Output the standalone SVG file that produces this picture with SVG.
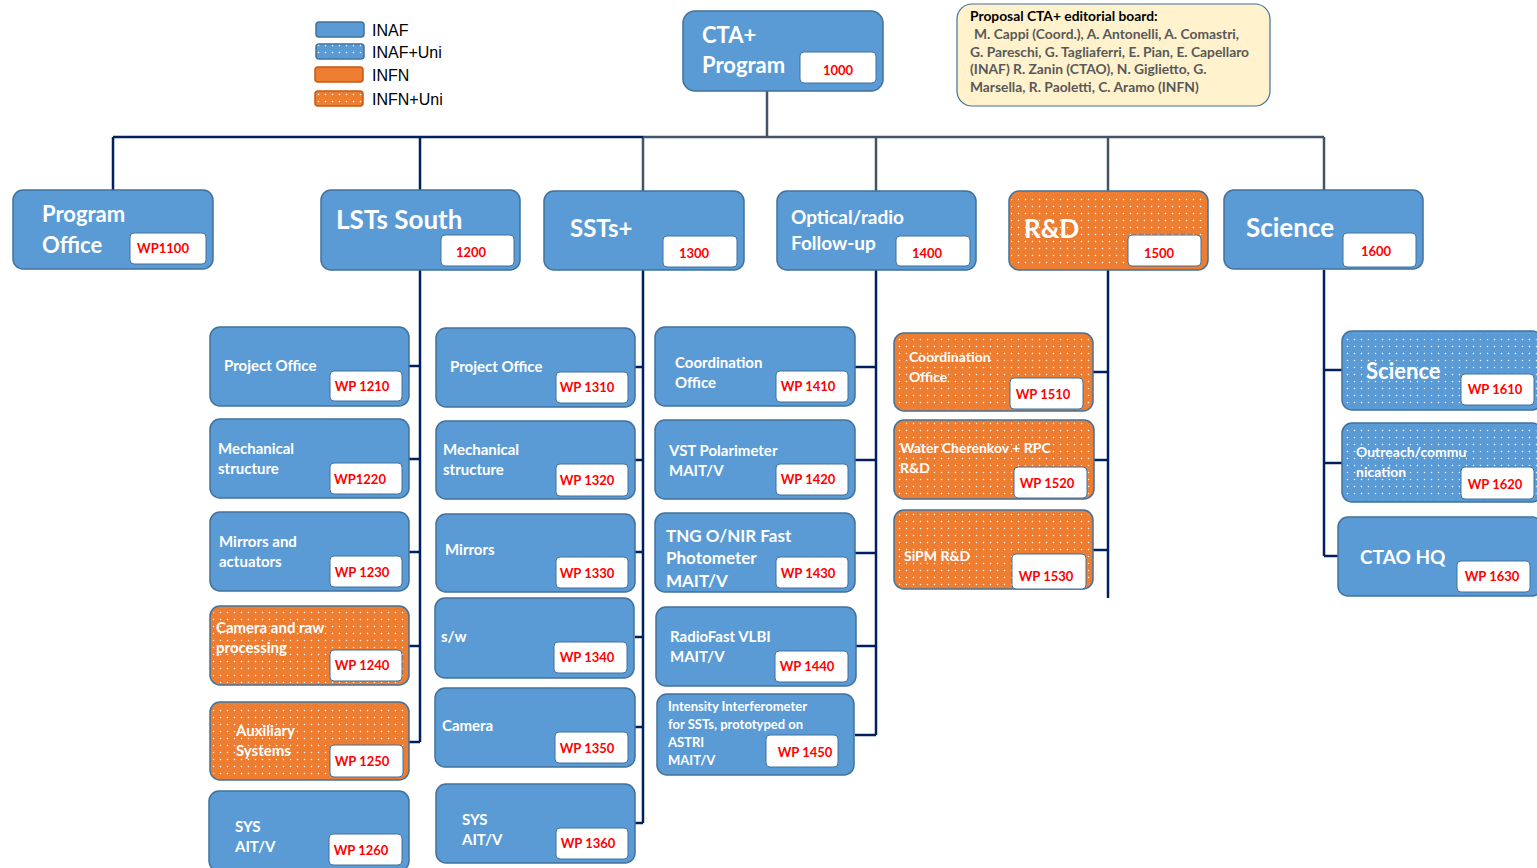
<svg xmlns="http://www.w3.org/2000/svg" width="1537" height="868" viewBox="0 0 1537 868">
<defs>
<pattern id="dots" width="7" height="7" patternUnits="userSpaceOnUse">
<circle cx="3.5" cy="3.5" r="0.75" fill="#ffffff"/>
</pattern>
<style>
.b{fill:#5B9BD5;stroke:#41719C;stroke-width:1.5}
.o{fill:#ED7D31;stroke:#41719C;stroke-width:1.5}
.d{fill:url(#dots);stroke:none}
.wp{fill:#ffffff;stroke:#41719C;stroke-width:1}
.t{font-family:Lato,"Liberation Sans",sans-serif;font-weight:bold;fill:#ffffff}
.r{font-family:Lato,"Liberation Sans",sans-serif;font-weight:bold;fill:#FF0000;font-size:13px;text-anchor:middle}
.n{fill:none;stroke:#002060;stroke-width:2.5}
.g{fill:none;stroke:#44546A;stroke-width:2.5}
.lg{font-family:"Liberation Sans",Arial,sans-serif;font-size:16px;fill:#000000}
.bd{font-family:Lato,"Liberation Sans",sans-serif;font-weight:bold;font-size:13.8px}
</style>
</defs>

<g id="connectors">
<path class="g" d="M767 84 V137 M643 137 H1324 M643 137 V191 M876 137 V191 M1108 137 V191 M1324 137 V190"/>
<path class="n" d="M113 137 H643 M113 137 V190 M420 137 V190"/>
<path class="n" d="M420 270 V742 M409 366 H420 M409 459 H420 M409 552 H420 M409 646 H420 M409 742 H420"/>
<path class="n" d="M643 270 V823 M635 367 H643 M635 460 H643 M635 552 H643 M635 637 H643 M635 727 H643 M635 823 H643"/>
<path class="n" d="M876 270 V735 M855 367 H876 M855 460 H876 M855 553 H876 M856 646 H876 M855 735 H876"/>
<path class="n" d="M1108 270 V598 M1093 372 H1108 M1093 460 H1108 M1093 550 H1108"/>
<path class="n" d="M1324 270 V556 M1324 370 H1342 M1324 463 H1342 M1324 556 H1338"/>
</g>

<g id="legend">
<rect class="b" x="316" y="22" width="48" height="15" rx="3"/>
<rect class="b" x="316" y="44" width="48" height="15" rx="3"/><rect class="d" x="316" y="44" width="48" height="15"/>
<rect class="o" x="315" y="67" width="48" height="15" rx="3" style="stroke:#C55A11"/>
<rect class="o" x="315" y="91" width="48" height="15" rx="3" style="stroke:#C55A11"/><rect class="d" x="315" y="91" width="48" height="15"/>
<text class="lg" x="372" y="36">INAF</text>
<text class="lg" x="372" y="58">INAF+Uni</text>
<text class="lg" x="372" y="81">INFN</text>
<text class="lg" x="372" y="105">INFN+Uni</text>
</g>

<g id="board">
<rect x="957" y="4" width="313" height="102" rx="15" fill="#FFF2CC" stroke="#41719C" stroke-width="1.2"/>
<text class="bd" fill="#000000" x="970" y="21">Proposal CTA+ editorial board:</text>
<g class="bd" fill="#595959">
<text x="974" y="39">M. Cappi (Coord.), A. Antonelli, A. Comastri,</text>
<text x="970" y="57">G. Pareschi, G. Tagliaferri, E. Pian, E. Capellaro</text>
<text x="970" y="74">(INAF) R. Zanin (CTAO), N. Giglietto, G.</text>
<text x="970" y="92">Marsella, R. Paoletti, C. Aramo (INFN)</text>
</g>
</g>

<g id="n1000">
<rect class="b" x="683" y="11" width="200" height="80" rx="12"/>
<text class="t" font-size="22" x="702" y="43">CTA+</text>
<text class="t" font-size="22" x="702" y="73">Program</text>
<rect class="wp" x="800" y="52" width="76" height="31" rx="4"/>
<text class="r" x="838" y="75">1000</text>
</g>

<g id="n1100">
<rect class="b" x="13" y="190" width="200" height="79" rx="10"/>
<text class="t" font-size="22" x="42" y="222">Program</text>
<text class="t" font-size="22" x="42" y="253">Office</text>
<rect class="wp" x="130" y="233" width="76" height="31" rx="4"/>
<text class="r" x="163" y="253">WP1100</text>
</g>

<g id="n1200">
<rect class="b" x="321" y="190" width="199" height="80" rx="10"/>
<text class="t" font-size="26" x="336" y="229">LSTs South</text>
<rect class="wp" x="441" y="235" width="73" height="31" rx="4"/>
<text class="r" x="471" y="257">1200</text>
</g>

<g id="n1300">
<rect class="b" x="544" y="191" width="200" height="79" rx="10"/>
<text class="t" font-size="24" x="570" y="237">SSTs+</text>
<rect class="wp" x="663" y="236" width="74" height="31" rx="4"/>
<text class="r" x="694" y="258">1300</text>
</g>

<g id="n1400">
<rect class="b" x="777" y="191" width="199" height="79" rx="10"/>
<text class="t" font-size="19" x="791" y="224">Optical/radio</text>
<text class="t" font-size="19" x="791" y="250">Follow-up</text>
<rect class="wp" x="896" y="236" width="74" height="30" rx="4"/>
<text class="r" x="927" y="258">1400</text>
</g>

<g id="n1500">
<rect class="o" x="1009" y="191" width="199" height="79" rx="10"/>
<rect class="d" x="1011" y="193" width="195" height="75" rx="9"/>
<text class="t" font-size="26" x="1024" y="238">R&amp;D</text>
<rect class="wp" x="1128" y="235" width="73" height="31" rx="4"/>
<text class="r" x="1159" y="258">1500</text>
</g>

<g id="n1600">
<rect class="b" x="1224" y="190" width="199" height="79" rx="10"/>
<text class="t" font-size="26" x="1246" y="237">Science</text>
<rect class="wp" x="1343" y="233" width="73" height="34" rx="4"/>
<text class="r" x="1376" y="256">1600</text>
</g>

<g id="n1210">
<rect class="b" x="210" y="327" width="199" height="79" rx="10"/>
<text class="t" font-size="15" x="224" y="371">Project Office</text>
<rect class="wp" x="330" y="371" width="72" height="30" rx="4"/>
<text class="r" x="362" y="391">WP 1210</text>
</g>
<g id="n1220">
<rect class="b" x="210" y="419" width="199" height="79" rx="10"/>
<text class="t" font-size="15" x="218" y="454">Mechanical</text>
<text class="t" font-size="15" x="218" y="474">structure</text>
<rect class="wp" x="330" y="463" width="72" height="31" rx="4"/>
<text class="r" x="360" y="484">WP1220</text>
</g>
<g id="n1230">
<rect class="b" x="210" y="512" width="199" height="79" rx="10"/>
<text class="t" font-size="15" x="219" y="547">Mirrors and</text>
<text class="t" font-size="15" x="219" y="567">actuators</text>
<rect class="wp" x="330" y="556" width="72" height="31" rx="4"/>
<text class="r" x="362" y="577">WP 1230</text>
</g>
<g id="n1240">
<rect class="o" x="210" y="606" width="199" height="79" rx="10"/>
<rect class="d" x="212" y="608" width="195" height="75" rx="9"/>
<text class="t" font-size="15" x="216" y="633">Camera and raw</text>
<text class="t" font-size="15" x="216" y="653">processing</text>
<rect class="wp" x="330" y="650" width="72" height="31" rx="4"/>
<text class="r" x="362" y="670">WP 1240</text>
</g>
<g id="n1250">
<rect class="o" x="210" y="702" width="199" height="78" rx="10"/>
<rect class="d" x="212" y="704" width="195" height="74" rx="9"/>
<text class="t" font-size="15" x="236" y="736">Auxiliary</text>
<text class="t" font-size="15" x="236" y="756">Systems</text>
<rect class="wp" x="330" y="745" width="73" height="32" rx="4"/>
<text class="r" x="362" y="766">WP 1250</text>
</g>
<g id="n1260">
<rect class="b" x="209" y="791" width="200" height="80" rx="10"/>
<text class="t" font-size="15" x="235" y="832">SYS</text>
<text class="t" font-size="15" x="235" y="852">AIT/V</text>
<rect class="wp" x="329" y="834" width="73" height="31" rx="4"/>
<text class="r" x="361" y="855">WP 1260</text>
</g>

<g id="n1310">
<rect class="b" x="436" y="328" width="199" height="79" rx="10"/>
<text class="t" font-size="15" x="450" y="372">Project Office</text>
<rect class="wp" x="556" y="372" width="72" height="31" rx="4"/>
<text class="r" x="587" y="392">WP 1310</text>
</g>
<g id="n1320">
<rect class="b" x="436" y="421" width="199" height="78" rx="10"/>
<text class="t" font-size="15" x="443" y="455">Mechanical</text>
<text class="t" font-size="15" x="443" y="475">structure</text>
<rect class="wp" x="556" y="464" width="72" height="32" rx="4"/>
<text class="r" x="587" y="485">WP 1320</text>
</g>
<g id="n1330">
<rect class="b" x="436" y="514" width="199" height="78" rx="10"/>
<text class="t" font-size="15" x="445" y="555">Mirrors</text>
<rect class="wp" x="556" y="557" width="72" height="31" rx="4"/>
<text class="r" x="587" y="578">WP 1330</text>
</g>
<g id="n1340">
<rect class="b" x="435" y="598" width="199" height="80" rx="10"/>
<text class="t" font-size="15" x="441" y="642">s/w</text>
<rect class="wp" x="554" y="642" width="73" height="31" rx="4"/>
<text class="r" x="587" y="662">WP 1340</text>
</g>
<g id="n1350">
<rect class="b" x="435" y="688" width="200" height="79" rx="10"/>
<text class="t" font-size="15" x="442" y="731">Camera</text>
<rect class="wp" x="555" y="732" width="73" height="31" rx="4"/>
<text class="r" x="587" y="753">WP 1350</text>
</g>
<g id="n1360">
<rect class="b" x="436" y="784" width="199" height="79" rx="10"/>
<text class="t" font-size="15" x="462" y="825">SYS</text>
<text class="t" font-size="15" x="462" y="845">AIT/V</text>
<rect class="wp" x="556" y="828" width="72" height="31" rx="4"/>
<text class="r" x="588" y="848">WP 1360</text>
</g>

<g id="n1410">
<rect class="b" x="655" y="327" width="200" height="79" rx="10"/>
<text class="t" font-size="15" x="675" y="368">Coordination</text>
<text class="t" font-size="15" x="675" y="388">Office</text>
<rect class="wp" x="776" y="371" width="72" height="31" rx="4"/>
<text class="r" x="808" y="391">WP 1410</text>
</g>
<g id="n1420">
<rect class="b" x="655" y="420" width="200" height="79" rx="10"/>
<text class="t" font-size="15" x="669" y="456">VST Polarimeter</text>
<text class="t" font-size="15" x="669" y="476">MAIT/V</text>
<rect class="wp" x="776" y="464" width="72" height="31" rx="4"/>
<text class="r" x="808" y="484">WP 1420</text>
</g>
<g id="n1430">
<rect class="b" x="655" y="513" width="200" height="79" rx="10"/>
<text class="t" font-size="17" x="666" y="542">TNG O/NIR Fast</text>
<text class="t" font-size="17" x="666" y="564">Photometer</text>
<text class="t" font-size="17" x="666" y="587">MAIT/V</text>
<rect class="wp" x="776" y="557" width="72" height="31" rx="4"/>
<text class="r" x="808" y="578">WP 1430</text>
</g>
<g id="n1440">
<rect class="b" x="656" y="607" width="200" height="79" rx="10"/>
<text class="t" font-size="15" x="670" y="642">RadioFast VLBI</text>
<text class="t" font-size="15" x="670" y="662">MAIT/V</text>
<rect class="wp" x="775" y="651" width="73" height="31" rx="4"/>
<text class="r" x="807" y="671">WP 1440</text>
</g>
<g id="n1450">
<rect class="b" x="657" y="694" width="197" height="81" rx="10"/>
<text class="t" font-size="13" x="668" y="711">Intensity Interferometer</text>
<text class="t" font-size="13" x="668" y="729">for SSTs, prototyped on</text>
<text class="t" font-size="13" x="668" y="747">ASTRI</text>
<text class="t" font-size="13" x="668" y="765">MAIT/V</text>
<rect class="wp" x="766" y="735" width="72" height="32" rx="4"/>
<text class="r" x="805" y="757">WP 1450</text>
</g>

<g id="n1510">
<rect class="o" x="894" y="333" width="199" height="78" rx="10"/>
<rect class="d" x="896" y="335" width="195" height="74" rx="9"/>
<text class="t" font-size="14" x="909" y="362">Coordination</text>
<text class="t" font-size="14" x="909" y="382">Office</text>
<rect class="wp" x="1010" y="378" width="73" height="31" rx="4"/>
<text class="r" x="1043" y="399">WP 1510</text>
</g>
<g id="n1520">
<rect class="o" x="894" y="420" width="200" height="79" rx="10"/>
<rect class="d" x="896" y="422" width="196" height="75" rx="9"/>
<text class="t" font-size="14" x="900" y="453">Water Cherenkov + RPC</text>
<text class="t" font-size="14" x="900" y="473">R&amp;D</text>
<rect class="wp" x="1014" y="467" width="73" height="31" rx="4"/>
<text class="r" x="1047" y="488">WP 1520</text>
</g>
<g id="n1530">
<rect class="o" x="894" y="510" width="199" height="79" rx="10"/>
<rect class="d" x="896" y="512" width="195" height="75" rx="9"/>
<text class="t" font-size="14" x="904" y="561">SiPM R&amp;D</text>
<rect class="wp" x="1012" y="554" width="74" height="35" rx="4"/>
<text class="r" x="1046" y="581">WP 1530</text>
</g>

<g id="n1610">
<rect class="b" x="1342" y="331" width="200" height="79" rx="10"/>
<rect class="d" x="1344" y="333" width="193" height="75" rx="9"/>
<text class="t" font-size="22" x="1366" y="379">Science</text>
<rect class="wp" x="1461" y="374" width="73" height="31" rx="4"/>
<text class="r" x="1495" y="394">WP 1610</text>
</g>
<g id="n1620">
<rect class="b" x="1342" y="423" width="200" height="79" rx="10"/>
<rect class="d" x="1344" y="425" width="193" height="75" rx="9"/>
<text class="t" font-size="14" x="1356" y="457">Outreach/commu</text>
<text class="t" font-size="14" x="1356" y="477">nication</text>
<rect class="wp" x="1461" y="467" width="73" height="32" rx="4"/>
<text class="r" x="1495" y="489">WP 1620</text>
</g>
<g id="n1630">
<rect class="b" x="1338" y="517" width="204" height="79" rx="10"/>
<text class="t" font-size="19" x="1360" y="564">CTAO HQ</text>
<rect class="wp" x="1457" y="561" width="73" height="31" rx="4"/>
<text class="r" x="1492" y="581">WP 1630</text>
</g>
</svg>
